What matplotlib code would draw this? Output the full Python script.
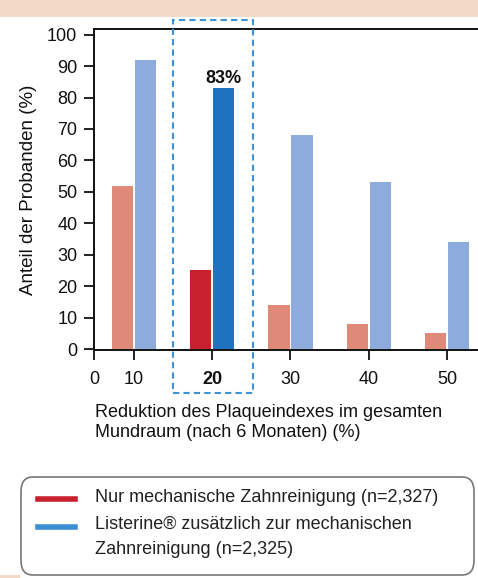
import numpy as np
import matplotlib
matplotlib.use("Agg")
import matplotlib.pyplot as plt
from matplotlib.patches import FancyBboxPatch, Rectangle
from matplotlib.lines import Line2D

plt.rcParams['font.family'] = ['Liberation Sans', 'DejaVu Sans']

# Daten
kategorien = ["10", "20", "30", "40", "50"]
nur_mechanisch = [52, 25, 14, 8, 5]
listerine = [92, 83, 68, 53, 34]
hervorgehoben = 1  # Index der Kategorie "20"

legende_rot = "Nur mechanische Zahnreinigung (n=2,327)"
legende_blau = ["Listerine® zusätzlich zur mechanischen", "Zahnreinigung (n=2,325)"]

rot_hell, rot_dunkel = "#df8a79", "#c8202f"
blau_hell, blau_dunkel = "#8dabdc", "#1f72bd"

W, H = 478, 578
fig = plt.figure(figsize=(W / 100, H / 100), dpi=100)

# Hintergrund-Streifen
fig.patches.append(Rectangle((0, 1 - 17 / H), 1, 17 / H, transform=fig.transFigure,
                             facecolor="#f2dac7", edgecolor="none", zorder=0))
fig.patches.append(Rectangle((0, 0), 20 / W, 3 / H, transform=fig.transFigure,
                             facecolor="#f2dac7", edgecolor="none", zorder=0))

ax = fig.add_axes([94 / W, (H - 350) / H, (492 - 94) / W, (350 - 29) / H])

x = np.arange(1, len(kategorien) + 1)
breite = 0.27
versatz = 0.147
farben_rot = [rot_dunkel if i == hervorgehoben else rot_hell for i in range(len(x))]
farben_blau = [blau_dunkel if i == hervorgehoben else blau_hell for i in range(len(x))]
ax.bar(x - versatz, nur_mechanisch, breite, color=farben_rot, zorder=2)
ax.bar(x + versatz, listerine, breite, color=farben_blau, zorder=2)

ax.text(x[hervorgehoben] + versatz, listerine[hervorgehoben] + 1.6,
        f"{listerine[hervorgehoben]}%", ha="center", va="baseline",
        fontsize=13, fontweight="bold", color="#111")

x_links = 1 - 40 / 78
ax.set_xlim(x_links, 5 + (492 - 447) / 78)
ax.set_ylim(-0.3, 101.8)
ax.set_yticks(range(0, 101, 10))
ax.set_xticks([x_links] + list(x))
ax.set_xticklabels(["0"] + kategorien)
ax.get_xticklabels()[hervorgehoben + 1].set_fontweight("bold")
ax.tick_params(axis="both", direction="out", length=7, width=1.3,
               labelsize=13, colors="#111", pad=5)
ax.tick_params(axis="x", pad=8)
for s in ax.spines.values():
    s.set_linewidth(1.4)
    s.set_color("#111")

ax.set_ylabel("Anteil der Probanden (%)", fontsize=13.5, color="#111", labelpad=7)

# gestrichelter Rahmen um "20"
ax.add_patch(Rectangle((x[hervorgehoben] - 0.5, -14.0), 1.02, 118.8,
                       transform=ax.transData, fill=False, edgecolor="#3d93d6",
                       linestyle=(0, (3, 2)), linewidth=1.5, clip_on=False, zorder=3))

fig.text(95 / W, 1 - 422.5 / H, "Reduktion des Plaqueindexes im gesamten\nMundraum (nach 6 Monaten) (%)",
         ha="left", va="center", fontsize=13, color="#111", linespacing=1.27)

# Legende
fig.patches.append(FancyBboxPatch((21 / W, 1 - 575 / H), (474 - 21) / W, (575 - 477) / H,
                                  boxstyle="round,pad=0,rounding_size=0.025",
                                  transform=fig.transFigure, facecolor="white",
                                  edgecolor="#777", linewidth=1.2))
fig.lines.append(Line2D([38 / W, 75 / W], [1 - 499 / H] * 2, transform=fig.transFigure,
                        color=rot_dunkel, linewidth=4))
fig.lines.append(Line2D([38 / W, 75 / W], [1 - 527 / H] * 2, transform=fig.transFigure,
                        color="#3a8fd3", linewidth=4))
fig.text(95 / W, 1 - 497 / H, legende_rot, ha="left", va="center", fontsize=13, color="#222")
fig.text(95 / W, 1 - 524 / H, legende_blau[0], ha="left", va="center", fontsize=13, color="#222")
fig.text(95 / W, 1 - 550 / H, legende_blau[1], ha="left", va="center", fontsize=13, color="#222")

fig.savefig("out.png", dpi=100)
